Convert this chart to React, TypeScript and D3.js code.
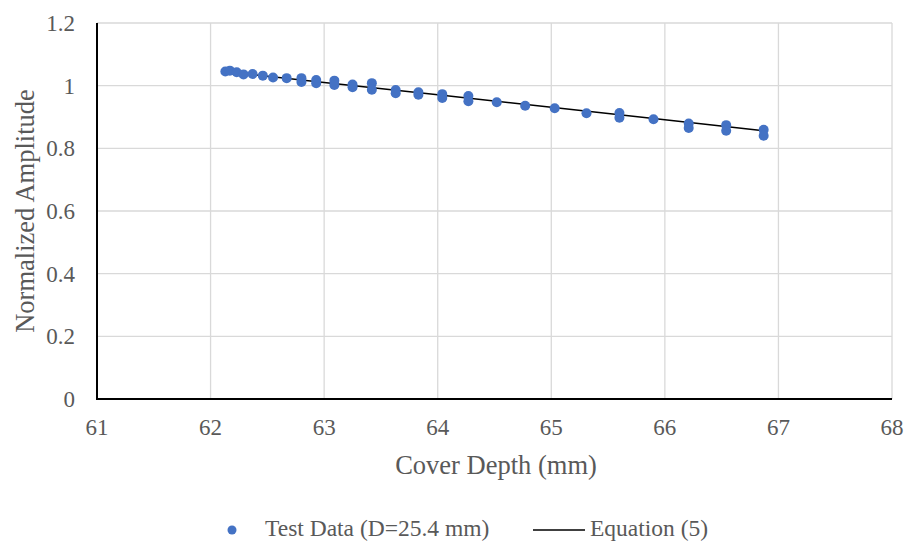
import React, { useEffect, useRef } from 'react';
import * as d3 from 'd3';

// test data (cover depth mm, normalized amplitude)
const testDepth = [
  62.13, 62.17, 62.23, 62.29, 62.37, 62.46, 62.55, 62.67,
  62.8, 62.8, 62.93, 62.93, 63.09, 63.09, 63.25, 63.25,
  63.42, 63.42, 63.63, 63.63, 63.83, 63.83, 64.04, 64.04,
  64.27, 64.27, 64.52, 64.77, 65.03, 65.31, 65.6, 65.6,
  65.9, 66.21, 66.21, 66.54, 66.54, 66.87, 66.87,
];
const testAmp = [
  1.045, 1.048, 1.043, 1.036, 1.037, 1.032, 1.026, 1.024,
  1.024, 1.012, 1.018, 1.008, 1.016, 1.002, 1.004, 0.995,
  1.008, 0.987, 0.986, 0.976, 0.979, 0.971, 0.973, 0.961,
  0.967, 0.95, 0.947, 0.936, 0.928, 0.912, 0.913, 0.898,
  0.893, 0.879, 0.865, 0.874, 0.856, 0.859, 0.84,
];

// equation (5) curve
const eqDepth = [62.12, 63, 64, 65, 66, 66.87];
const eqAmp = [1.045, 1.01, 0.971, 0.931, 0.891, 0.856];

const xTicks = [61, 62, 63, 64, 65, 66, 67, 68];
const yTicks = [0, 0.2, 0.4, 0.6, 0.8, 1, 1.2];

const W = 906;
const H = 542;
const FONT = "'Times New Roman', Times, 'Liberation Serif', 'DejaVu Serif', serif";
const TXT = '#595959';
const BLUE = '#4472C4';

export default function App() {
  const ref = useRef<SVGSVGElement>(null);

  useEffect(() => {
    const svg = d3.select(ref.current);
    svg.selectAll('*').remove();

    const margin = { top: 23, right: 14, bottom: 143, left: 97 };
    const x = d3.scaleLinear().domain([61, 68]).range([margin.left, W - margin.right]);
    const y = d3.scaleLinear().domain([0, 1.2]).range([H - margin.bottom, margin.top]);

    // gridlines
    svg.append('g').selectAll('line.h').data(yTicks).enter().append('line')
      .attr('x1', x(61)).attr('x2', x(68))
      .attr('y1', d => y(d)).attr('y2', d => y(d))
      .attr('stroke', '#d9d9d9').attr('stroke-width', 1.3);
    svg.append('g').selectAll('line.v').data(xTicks).enter().append('line')
      .attr('x1', d => x(d)).attr('x2', d => x(d))
      .attr('y1', y(0)).attr('y2', y(1.2))
      .attr('stroke', '#d9d9d9').attr('stroke-width', 1.3);

    // axis lines
    svg.append('line').attr('x1', x(61)).attr('x2', x(61)).attr('y1', y(0)).attr('y2', y(1.2))
      .attr('stroke', '#000').attr('stroke-width', 2);
    svg.append('line').attr('x1', x(61) - 1).attr('x2', x(68)).attr('y1', y(0)).attr('y2', y(0))
      .attr('stroke', '#000').attr('stroke-width', 2);

    const g = svg.append('g').attr('font-family', FONT).attr('fill', TXT);

    // tick labels
    g.append('g').selectAll('text').data(yTicks).enter().append('text')
      .attr('x', 75).attr('y', d => y(d)).attr('dy', '0.35em')
      .attr('text-anchor', 'end').attr('font-size', 23)
      .text(d => String(d));
    g.append('g').selectAll('text').data(xTicks).enter().append('text')
      .attr('x', d => x(d)).attr('y', y(0) + 28).attr('dy', '0.35em')
      .attr('text-anchor', 'middle').attr('font-size', 23)
      .text(d => String(d));

    // axis titles
    g.append('text').attr('x', 496).attr('y', 465).attr('dy', '0.35em')
      .attr('text-anchor', 'middle').attr('font-size', 26.5)
      .text('Cover Depth (mm)');
    g.append('text')
      .attr('transform', `translate(25,${(y(0) + y(1.2)) / 2}) rotate(-90)`)
      .attr('dy', '0.35em').attr('text-anchor', 'middle').attr('font-size', 26.5)
      .text('Normalized Amplitude');

    // equation line
    const line = d3.line<number>().x(i => x(eqDepth[i])).y(i => y(eqAmp[i]));
    svg.append('path').attr('d', line(d3.range(eqDepth.length)))
      .attr('fill', 'none').attr('stroke', '#000').attr('stroke-width', 1.5);

    // test points
    svg.append('g').selectAll('circle').data(d3.range(testDepth.length)).enter().append('circle')
      .attr('cx', i => x(testDepth[i])).attr('cy', i => y(testAmp[i]))
      .attr('r', 5).attr('fill', BLUE);

    // legend
    const ly = 528;
    svg.append('circle').attr('cx', 232).attr('cy', ly + 2).attr('r', 4.5).attr('fill', BLUE);
    g.append('text').attr('x', 265).attr('y', ly).attr('dy', '0.35em').attr('font-size', 23.5)
      .text('Test Data (D=25.4 mm)');
    svg.append('line').attr('x1', 533).attr('x2', 585).attr('y1', ly + 2).attr('y2', ly + 2)
      .attr('stroke', '#000').attr('stroke-width', 1.5);
    g.append('text').attr('x', 590).attr('y', ly).attr('dy', '0.35em').attr('font-size', 23.5)
      .text('Equation (5)');
  }, []);

  return (
    <svg ref={ref} width={W} height={H}
      style={{ position: 'absolute', left: 0, top: 0, background: '#fff' }} />
  );
}
